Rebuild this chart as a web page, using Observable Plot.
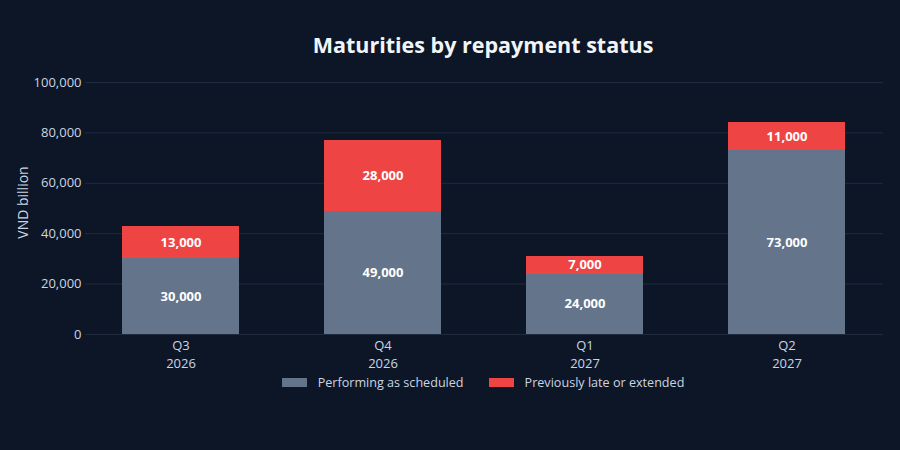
<!DOCTYPE html>
<html>
<head>
<meta charset="utf-8">
<script src="https://cdn.jsdelivr.net/npm/d3@7"></script>
<script src="https://cdn.jsdelivr.net/npm/@observablehq/plot@0.6"></script>
<style>
  html, body { margin: 0; padding: 0; background: #0d1627; }
  #wrap { width: 900px; height: 450px; background: #0d1627; font-family: "Open Sans", sans-serif; position: relative; overflow: hidden; }
  #title { height: 62px; box-sizing: border-box; padding-top: 32px; line-height: 26px; text-align: center; color: #f1f5f9; font-size: 21.5px; font-weight: 700; }
  #title span { position: relative; left: 33px; }
  #legend { height: 22px; display: flex; justify-content: center; align-items: center; color: #cbd5e1; font-size: 12.6px; position: relative; left: 33px; top: -1px; }
  .item { display: flex; align-items: center; margin: 0 12.5px; }
  .sw { width: 25px; height: 9px; margin-right: 11px; }
</style>
</head>
<body>
<div id="wrap">
  <div id="title"><span>Maturities by repayment status</span></div>
  <div id="chart"></div>
  <div id="legend"></div>
</div>
<script>
const quarters = ["Q3", "Q4", "Q1", "Q2"];
const years = ["2026", "2026", "2027", "2027"];
const performing = [30000, 49000, 24000, 73000];
const lateExtended = [13000, 28000, 7000, 11000];
const seriesNames = ["Performing as scheduled", "Previously late or extended"];
const seriesColors = ["#64748b", "#ef4444"];
const yTicks = [0, 20000, 40000, 60000, 80000, 100000];
const yLabel = "VND billion";

const periods = quarters.map((q, i) => q + " " + years[i]);
const rows = [];
periods.forEach((p, i) => {
  rows.push({period: p, series: seriesNames[0], value: performing[i]});
  rows.push({period: p, series: seriesNames[1], value: lateExtended[i]});
});

const fmt = d3.format(",");

const chart = Plot.plot({
  width: 900,
  height: 310,
  marginTop: 20,
  marginBottom: 38,
  marginLeft: 85,
  marginRight: 17,
  style: {background: "transparent", fontFamily: "Open Sans, sans-serif", fontSize: "13px", color: "#cbd5e1"},
  x: {domain: periods, paddingInner: 0.42, paddingOuter: 0.18, label: null},
  y: {domain: [0, 100000], label: null},
  color: {domain: seriesNames, range: seriesColors},
  marks: [
    Plot.ruleY(yTicks, {stroke: "#1f2b3d", strokeWidth: 1}),
    Plot.barY(rows, Plot.stackY({x: "period", y: "value", fill: "series", z: "series", shapeRendering: "crispEdges"})),
    Plot.text(rows, Plot.stackY({x: "period", y: "value", z: "series", text: d => fmt(d.value), fill: "#ffffff", fontWeight: 700, fontSize: 13})),
    Plot.axisY({ticks: yTicks, tickFormat: fmt, tickSize: 0, tickPadding: 4, fontSize: 13, label: null}),
    Plot.text([yLabel], {frameAnchor: "left", text: d => d, rotate: -90, textAnchor: "middle", dx: -62, dy: -6, fontSize: 14, fill: "#cbd5e1"}),
    Plot.axisX({tickSize: 0, tickPadding: 6, fontSize: 13, label: null, tickFormat: p => quarters[periods.indexOf(p)]}),
    Plot.axisX({tickSize: 0, tickPadding: 24, fontSize: 13, label: null, tickFormat: p => years[periods.indexOf(p)]})
  ]
});
chart.style.display = "block";
document.getElementById("chart").appendChild(chart);

const legend = document.getElementById("legend");
seriesNames.forEach((name, i) => {
  const item = document.createElement("div");
  item.className = "item";
  const sw = document.createElement("div");
  sw.className = "sw";
  sw.style.background = seriesColors[i];
  const t = document.createElement("span");
  t.textContent = name;
  item.appendChild(sw);
  item.appendChild(t);
  legend.appendChild(item);
});
</script>
</body>
</html>
